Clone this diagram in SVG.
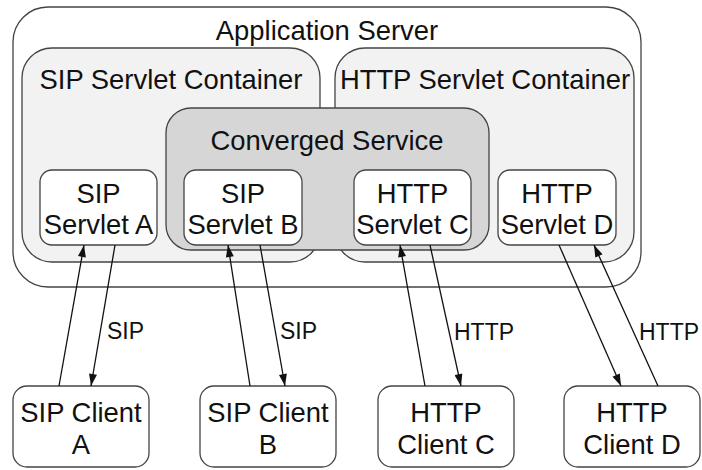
<svg xmlns="http://www.w3.org/2000/svg" width="702" height="470" viewBox="0 0 702 470">
<defs>
<style>
text{font-family:"Liberation Sans",Arial,sans-serif;font-size:27.4px;fill:#111;text-anchor:middle}
.lbl{font-size:23px;text-anchor:start}
.box{stroke:#444;stroke-width:1.3}
.edge{stroke:#111;stroke-width:1.3;fill:none;marker-end:url(#ah)}
</style>
<marker id="ah" viewBox="0 0 12 8" refX="12" refY="4" markerWidth="13" markerHeight="8" markerUnits="userSpaceOnUse" orient="auto">
<path d="M0,0 L12,4 L0,8 Z" fill="#111"/>
</marker>
</defs>
<g id="app-server"><rect class="box" x="13" y="7" width="628" height="280" rx="35" fill="#fff"/><text x="327" y="40">Application Server</text></g>
<g id="sip-container"><rect class="box" x="22" y="48" width="298" height="214" rx="30" fill="#f2f2f2"/><text x="171" y="89">SIP Servlet Container</text></g>
<g id="http-container"><rect class="box" x="335" y="48" width="299" height="214" rx="30" fill="#f2f2f2"/><text x="485" y="89">HTTP Servlet Container</text></g>
<g id="converged"><rect class="box" x="166" y="108" width="323" height="142" rx="25" fill="#d6d6d6"/><text x="327" y="150">Converged Service</text></g>
<g id="servlet-a"><rect class="box" x="40" y="170" width="117" height="75" rx="12" fill="#fff"/><text x="98.5" y="203">SIP</text><text x="98.5" y="234">Servlet A</text></g>
<g id="servlet-b"><rect class="box" x="184" y="170" width="118" height="75" rx="12" fill="#fff"/><text x="243" y="203">SIP</text><text x="243" y="234">Servlet B</text></g>
<g id="servlet-c"><rect class="box" x="354" y="170" width="117" height="75" rx="12" fill="#fff"/><text x="412.5" y="203">HTTP</text><text x="412.5" y="234">Servlet C</text></g>
<g id="servlet-d"><rect class="box" x="498" y="170" width="118" height="75" rx="12" fill="#fff"/><text x="557" y="203">HTTP</text><text x="557" y="234">Servlet D</text></g>
<g id="client-a"><rect class="box" x="13" y="386" width="136" height="81" rx="14" fill="#fff"/><text x="81" y="422">SIP Client</text><text x="81" y="454">A</text></g>
<g id="client-b"><rect class="box" x="200" y="386" width="136" height="81" rx="14" fill="#fff"/><text x="268" y="422">SIP Client</text><text x="268" y="454">B</text></g>
<g id="client-c"><rect class="box" x="378" y="386" width="136" height="81" rx="14" fill="#fff"/><text x="446" y="422">HTTP</text><text x="446" y="454">Client C</text></g>
<g id="client-d"><rect class="box" x="564" y="386" width="136" height="81" rx="14" fill="#fff"/><text x="632" y="422">HTTP</text><text x="632" y="454">Client D</text></g>
<g id="connectors">
<line class="edge" x1="59" y1="386" x2="84" y2="245"/>
<line class="edge" x1="115" y1="245" x2="91" y2="386"/>
<line class="edge" x1="250" y1="386" x2="228" y2="245"/>
<line class="edge" x1="260" y1="245" x2="285" y2="386"/>
<line class="edge" x1="425" y1="386" x2="400" y2="245"/>
<line class="edge" x1="430" y1="245" x2="461" y2="386"/>
<line class="edge" x1="559" y1="245" x2="621" y2="386"/>
<line class="edge" x1="658" y1="386" x2="594" y2="245"/>
<text class="lbl" x="107" y="339">SIP</text>
<text class="lbl" x="280" y="339">SIP</text>
<text class="lbl" x="454" y="340">HTTP</text>
<text class="lbl" x="639" y="340">HTTP</text>
</g>
</svg>
